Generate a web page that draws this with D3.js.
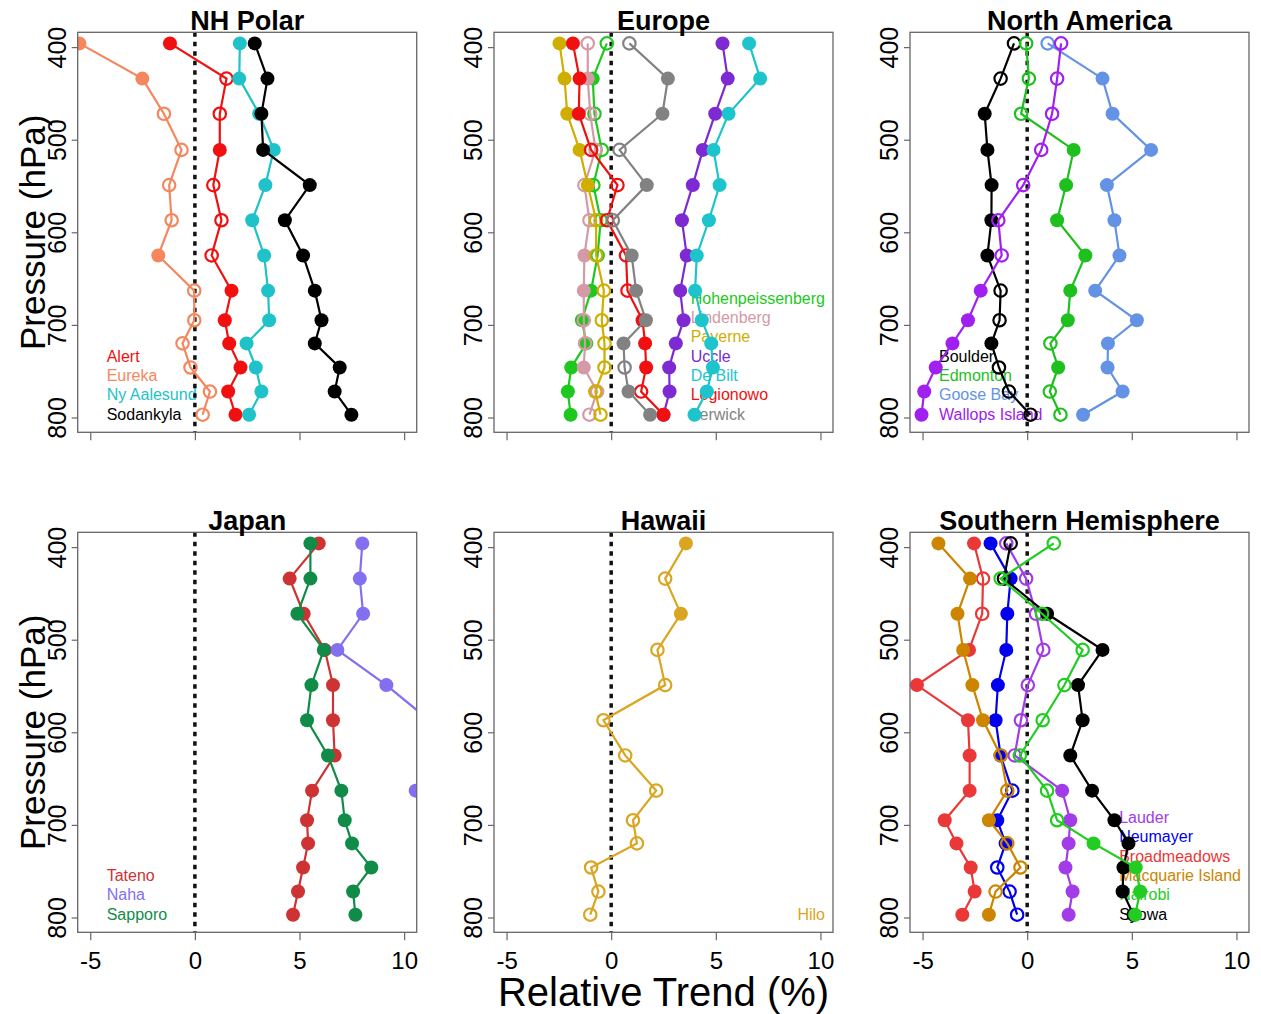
<!DOCTYPE html>
<html>
<head>
<meta charset="utf-8">
<script src="https://cdn.jsdelivr.net/npm/d3@7"></script>
<style>
  body { margin: 0; background: #fff; }
  text { font-family: "Liberation Sans", Arial, sans-serif; }
</style>
</head>
<body>
<svg id="chart" width="1261" height="1014"></svg>
<script>
// pressure levels (hPa) of the profile points
const levels = [396, 434, 472, 511, 549, 587, 625, 663, 695, 720, 746, 772, 797];
const yTicks = [400, 500, 600, 700, 800];
const xTicks = [-5, 0, 5, 10];

// relative trend (%) per station, and 1 = significant (filled) / 0 = not (open)
const alertTrend = [-1.19, 1.51, 1.19, 1.19, 0.88, 1.27, 0.80, 1.75, 1.43, 1.64, 2.18, 1.59, 1.94];
const alertSig = [1, 0, 0, 1, 0, 0, 0, 1, 1, 1, 1, 1, 1];
const eurekaTrend = [-5.52, -2.51, -1.48, -0.64, -1.23, -1.11, -1.75, -0.03, -0.03, -0.59, -0.21, 0.72, 0.37];
const eurekaSig = [1, 1, 0, 0, 0, 0, 1, 0, 0, 0, 0, 0, 0];
const nyAalesundTrend = [2.15, 2.12, 3.07, 3.77, 3.37, 2.74, 3.31, 3.50, 3.55, 2.47, 2.91, 3.18, 2.59];
const nyAalesundSig = [1, 1, 1, 1, 1, 1, 1, 1, 1, 1, 1, 1, 1];
const sodankylaTrend = [2.86, 3.47, 3.18, 3.26, 5.49, 4.30, 5.17, 5.73, 6.05, 5.73, 6.92, 6.68, 7.48];
const sodankylaSig = [1, 1, 1, 1, 1, 1, 1, 1, 1, 1, 1, 1, 1];

const hohenTrend = [-0.21, -0.88, -0.80, -0.45, -0.85, -0.50, -0.65, -0.96, -1.40, -1.19, -1.91, -2.07, -1.94];
const hohenSig = [0, 1, 0, 0, 0, 0, 0, 1, 1, 1, 1, 1, 1];
const lindenbergTrend = [-1.12, -1.12, -1.00, -0.75, -1.28, -1.04, -1.28, -1.31, -1.31, -1.25, -1.31, -0.67, -1.04];
const lindenbergSig = [0, 1, 0, 0, 0, 0, 1, 1, 0, 0, 1, 0, 0];
const payerneTrend = [-2.47, -2.23, -2.10, -1.51, -1.12, -0.72, -0.72, -0.35, -0.45, -0.32, -0.32, -0.76, -0.51];
const payerneSig = [1, 1, 1, 1, 1, 0, 0, 0, 0, 0, 0, 0, 0];
const uccleTrend = [5.32, 5.57, 4.97, 4.38, 3.90, 3.38, 3.61, 3.30, 3.46, 3.09, 2.77, 2.79, 2.50];
const uccleSig = [1, 1, 1, 1, 1, 1, 1, 1, 1, 1, 1, 1, 1];
const deBiltTrend = [6.59, 7.12, 5.61, 4.89, 5.18, 4.67, 4.09, 4.01, 4.33, 4.78, 4.86, 4.57, 3.98];
const deBiltSig = [1, 1, 1, 1, 1, 1, 1, 1, 1, 1, 1, 1, 1];
const legionowoTrend = [-1.83, -1.51, -1.55, -0.96, 0.30, -0.20, 0.71, 0.78, 1.50, 1.62, 1.67, 1.43, 2.50];
const legionowoSig = [1, 1, 1, 0, 0, 0, 0, 0, 1, 1, 1, 0, 1];
const lerwickTrend = [0.87, 2.71, 2.45, 0.40, 1.70, 0.08, 0.98, 1.19, 1.66, 0.59, 0.64, 0.83, 1.86];
const lerwickSig = [0, 1, 1, 0, 1, 0, 1, 1, 1, 1, 0, 1, 1];

const boulderTrend = [-0.63, -1.27, -2.03, -1.90, -1.70, -1.71, -1.90, -1.27, -1.32, -1.71, -1.35, -0.87, 0.16];
const boulderSig = [0, 0, 1, 1, 1, 1, 1, 0, 0, 1, 0, 0, 0];
const edmontonTrend = [-0.05, 0.08, -0.29, 2.22, 1.86, 1.43, 2.78, 2.06, 1.94, 1.11, 1.48, 1.08, 1.59];
const edmontonSig = [0, 0, 0, 1, 1, 1, 1, 1, 1, 0, 1, 0, 0];
const gooseBayTrend = [0.98, 3.60, 4.08, 5.92, 3.81, 4.17, 4.41, 3.25, 5.24, 3.86, 3.84, 4.56, 2.67];
const gooseBaySig = [0, 1, 1, 1, 1, 1, 1, 1, 1, 1, 1, 1, 1];
const wallopsTrend = [1.62, 1.43, 1.19, 0.67, -0.19, -1.38, -1.22, -2.22, -2.83, -3.57, -4.37, -4.92, -5.05];
const wallopsSig = [0, 0, 0, 0, 0, 0, 0, 1, 1, 1, 1, 1, 1];

const tatenoTrend = [5.92, 4.53, 5.20, 6.21, 6.60, 6.60, 6.68, 5.60, 5.36, 5.41, 5.17, 4.93, 4.69];
const tatenoSig = [1, 1, 1, 1, 1, 1, 1, 1, 1, 1, 1, 1, 1];
const nahaTrend = [8.00, 7.88, 8.04, 6.81, 9.15, 11.2, 12.5, 10.55, 12.0, 11.8, 12.3, 11.9, 12.4];
const nahaSig = [1, 1, 1, 1, 1, 1, 1, 1, 1, 1, 1, 1, 1];
const sapporoTrend = [5.52, 5.52, 4.90, 6.16, 5.57, 5.36, 6.36, 7.00, 7.16, 7.51, 8.43, 7.56, 7.67];
const sapporoSig = [1, 1, 1, 1, 1, 1, 1, 1, 1, 1, 1, 1, 1];

const hiloTrend = [3.57, 2.58, 3.33, 2.21, 2.58, -0.37, 0.67, 2.15, 1.04, 1.23, -0.96, -0.61, -1.00];
const hiloSig = [1, 0, 1, 0, 0, 0, 0, 0, 0, 0, 0, 0, 0];

const lauderTrend = [-1.00, -0.05, 0.42, 0.77, 0.03, -0.30, -0.60, 1.67, 2.06, 1.98, 1.83, 2.17, 1.98];
const lauderSig = [0, 0, 0, 0, 0, 0, 0, 1, 1, 1, 1, 1, 1];
const neumayerTrend = [-1.75, -0.79, -0.95, -1.00, -1.40, -1.51, -1.27, -0.71, -1.43, -1.03, -1.43, -0.84, -0.48];
const neumayerSig = [1, 1, 1, 1, 1, 1, 1, 0, 1, 1, 0, 0, 0];
const broadTrend = [-2.54, -2.11, -2.15, -2.78, -5.27, -2.83, -2.75, -2.75, -3.94, -3.38, -2.70, -2.51, -3.10];
const broadSig = [1, 0, 0, 1, 1, 1, 1, 1, 1, 1, 1, 1, 1];
const macquarieTrend = [-4.24, -2.73, -3.33, -3.06, -2.62, -2.11, -1.27, -0.95, -1.83, -0.95, -0.32, -1.51, -1.83];
const macquarieSig = [1, 1, 1, 1, 1, 1, 0, 0, 1, 0, 0, 0, 1];
const nairobiTrend = [1.27, -1.27, 0.71, 2.65, 1.78, 0.74, -0.35, 0.95, 1.43, 3.17, 5.19, 5.40, 5.16];
const nairobiSig = [0, 0, 0, 0, 0, 0, 0, 0, 0, 1, 1, 1, 1];
const syowaTrend = [-0.79, -1.11, 0.95, 3.60, 2.43, 2.65, 2.06, 3.10, 4.17, 4.84, 4.60, 4.56, 5.08];
const syowaSig = [0, 0, 1, 1, 1, 1, 1, 1, 1, 1, 1, 1, 1];

const st = (name, color, trend, sig) => ({name, color, trend, sig});

const panels = [
  {title: 'NH Polar', col: 0, row: 0, legend: 'left', stations: [
    st('Alert', '#f01010', alertTrend, alertSig),
    st('Eureka', '#f5875f', eurekaTrend, eurekaSig),
    st('Ny Aalesund', '#1ec2c8', nyAalesundTrend, nyAalesundSig),
    st('Sodankyla', '#000000', sodankylaTrend, sodankylaSig)]},
  {title: 'Europe', col: 1, row: 0, legend: 'right', stations: [
    st('Hohenpeissenberg', '#1ec81e', hohenTrend, hohenSig),
    st('Lindenberg', '#d49aa6', lindenbergTrend, lindenbergSig),
    st('Payerne', '#cfae00', payerneTrend, payerneSig),
    st('Uccle', '#7d2ad2', uccleTrend, uccleSig),
    st('De Bilt', '#1ec4cc', deBiltTrend, deBiltSig),
    st('Legionowo', '#f01010', legionowoTrend, legionowoSig),
    st('Lerwick', '#828282', lerwickTrend, lerwickSig)]},
  {title: 'North America', col: 2, row: 0, legend: 'left', stations: [
    st('Boulder', '#000000', boulderTrend, boulderSig),
    st('Edmonton', '#1ec01e', edmontonTrend, edmontonSig),
    st('Goose Bay', '#6493e6', gooseBayTrend, gooseBaySig),
    st('Wallops Island', '#a020f0', wallopsTrend, wallopsSig)]},
  {title: 'Japan', col: 0, row: 1, legend: 'left', stations: [
    st('Tateno', '#cd3333', tatenoTrend, tatenoSig),
    st('Naha', '#8270f0', nahaTrend, nahaSig),
    st('Sapporo', '#108c48', sapporoTrend, sapporoSig)]},
  {title: 'Hawaii', col: 1, row: 1, legend: 'right', stations: [
    st('Hilo', '#daa520', hiloTrend, hiloSig)]},
  {title: 'Southern Hemisphere', col: 2, row: 1, legend: 'right', stations: [
    st('Lauder', '#a23ce8', lauderTrend, lauderSig),
    st('Neumayer', '#0000ee', neumayerTrend, neumayerSig),
    st('Broadmeadows', '#ea3838', broadTrend, broadSig),
    st('Macquarie Island', '#cd8500', macquarieTrend, macquarieSig),
    st('Nairobi', '#22cc22', nairobiTrend, nairobiSig),
    st('Syowa', '#000000', syowaTrend, syowaSig)],
    order: [0, 1, 2, 3, 5, 4]}
];

const svg = d3.select('#chart');
const plotW = 339, plotH = 400;
const colX = [77.7, 494, 910];
const rowY = [32.3, 532.3];
const axisColor = '#666';

panels.forEach((p, i) => {
  const x0 = colX[p.col], y0 = rowY[p.row];
  const g = svg.append('g').attr('transform', `translate(${x0},${y0})`);

  const x = d3.scaleLinear().domain([-5.6, 10.6]).range([0, plotW]);
  const y = d3.scaleLinear().domain([384, 816]).range([0, plotH]);

  g.append('clipPath').attr('id', `clip${i}`)
    .append('rect').attr('width', plotW).attr('height', plotH);

  // y axis with rotated labels
  const ya = g.append('g')
      .call(d3.axisLeft(y).tickValues(yTicks).tickSize(6).tickSizeOuter(0));
  ya.select('.domain').remove();
  ya.selectAll('line').attr('stroke', axisColor).attr('stroke-width', 1.2);
  ya.selectAll('text')
      .attr('transform', 'rotate(-90)')
      .attr('x', 0).attr('y', -12).attr('dy', 0)
      .attr('text-anchor', 'middle')
      .attr('fill', '#000')
      .style('font-size', '25px')
      .style('font-family', '"Liberation Sans", Arial, sans-serif');

  // x axis (labels only on bottom row), plain hyphen for negatives
  const xa = g.append('g').attr('transform', `translate(0,${plotH})`)
      .call(d3.axisBottom(x).tickValues(xTicks).tickSize(8).tickSizeOuter(0)
        .tickFormat(d => p.row === 1 ? String(d) : ''));
  xa.select('.domain').remove();
  xa.selectAll('line').attr('stroke', axisColor).attr('stroke-width', 1.2);
  xa.selectAll('text')
      .attr('y', 37).attr('dy', 0)
      .attr('fill', '#000')
      .style('font-size', '24px')
      .style('font-family', '"Liberation Sans", Arial, sans-serif');

  // legend text (drawn before data, like the original)
  const n = p.stations.length;
  const leg = g.append('g');
  const texts = leg.selectAll('text')
    .data(p.stations)
    .join('text')
      .attr('y', (d, j) => plotH - 18.3 - (n - 1 - j) * 19.3)
      .attr('dy', '0.35em')
      .attr('fill', d => d.color)
      .style('font-size', '16px')
      .text(d => d.name);
  if (p.legend === 'left') {
    texts.attr('x', 29);
  } else {
    const maxW = d3.max(texts.nodes(), t => t.getComputedTextLength());
    texts.attr('x', plotW - 8 - maxW);
  }

  // zero reference line
  g.append('line')
      .attr('x1', x(0)).attr('x2', x(0))
      .attr('y1', 0).attr('y2', plotH)
      .attr('stroke', '#111')
      .attr('stroke-width', 3.5)
      .attr('stroke-dasharray', '4.5,5');

  const data = g.append('g').attr('clip-path', `url(#clip${i})`);
  const line = d3.line().x(d => x(d.v)).y(d => y(d.p));
  const order = p.order || d3.range(n);

  order.forEach(k => {
    const s = p.stations[k];
    const pts = levels.map((lv, j) => ({p: lv, v: s.trend[j], sig: s.sig[j]}));
    data.append('path')
        .datum(pts)
        .attr('d', line)
        .attr('fill', 'none')
        .attr('stroke', s.color)
        .attr('stroke-width', 2.2);
    data.selectAll(null)
      .data(pts)
      .join('circle')
        .attr('cx', d => x(d.v))
        .attr('cy', d => y(d.p))
        .attr('r', d => d.sig ? 7 : 6.2)
        .attr('fill', d => d.sig ? s.color : 'none')
        .attr('stroke', s.color)
        .attr('stroke-width', d => d.sig ? 0 : 2.2);
  });

  // plot box
  g.append('rect')
      .attr('width', plotW).attr('height', plotH)
      .attr('fill', 'none')
      .attr('stroke', axisColor)
      .attr('stroke-width', 1.3);

  // panel title
  g.append('text')
      .attr('x', plotW / 2).attr('y', -2)
      .attr('text-anchor', 'middle')
      .style('font-size', '27px')
      .style('font-weight', 'bold')
      .text(p.title);
});

// axis titles
rowY.forEach(y0 => {
  svg.append('text')
      .attr('transform', `translate(45,${y0 + plotH / 2}) rotate(-90)`)
      .attr('text-anchor', 'middle')
      .style('font-size', '35px')
      .text('Pressure (hPa)');
});

svg.append('text')
    .attr('x', colX[1] + plotW / 2).attr('y', 1006)
    .attr('text-anchor', 'middle')
    .style('font-size', '40px')
    .text('Relative Trend (%)');
</script>
</body>
</html>
